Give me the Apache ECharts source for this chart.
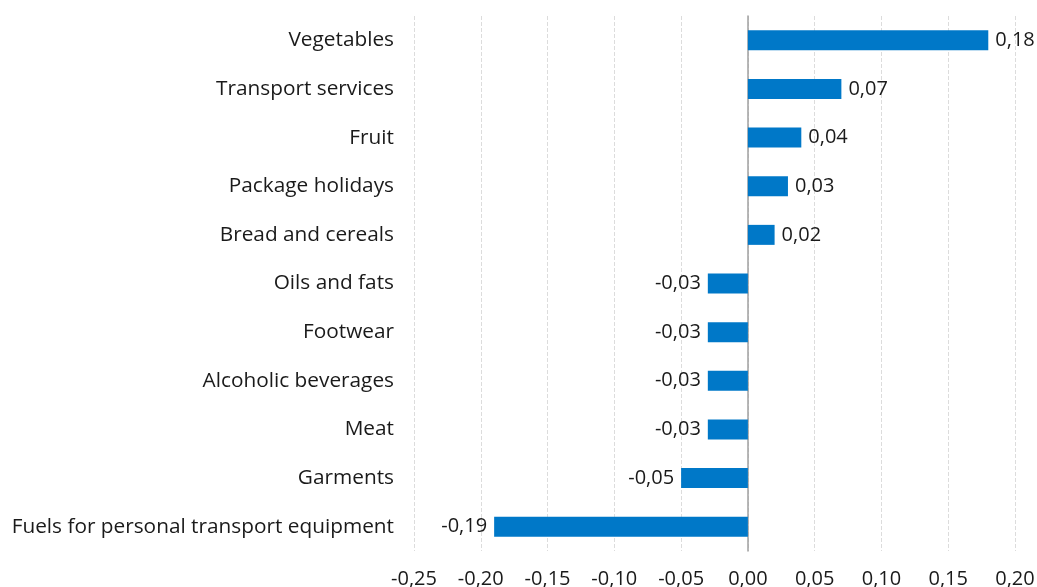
<!DOCTYPE html>
<html lang="en">
<head>
    <meta charset="UTF-8">
    <title>Contributions</title>
    <script src="https://cdn.jsdelivr.net/npm/echarts@6/dist/echarts.min.js"></script>
    <style>
        html, body {
            margin: 0;
            height: 100%;
            background: #fff;
        }
    </style>
</head>
<body>
<div id="main" style="width: 1037px;height: 587px"></div>
<script>
    var categories = ['Vegetables', 'Transport services', 'Fruit', 'Package holidays', 'Bread and cereals',
        'Oils and fats', 'Footwear', 'Alcoholic beverages', 'Meat', 'Garments',
        'Fuels for personal transport equipment'];
    var values = [0.18, 0.07, 0.04, 0.03, 0.02, -0.03, -0.03, -0.03, -0.03, -0.05, -0.19];

    function comma(v, d) {
        return v.toFixed(d).replace('.', ',');
    }

    var font = "'Open Sans', 'Noto Sans', sans-serif";
    var fs = 20;
    var myChart = echarts.init(document.getElementById('main'));

    var option = {
        animation: false,
        grid: {left: 414, right: 22, top: 16, bottom: 36, containLabel: false, outerBoundsMode: 'none'},
        xAxis: {
            type: 'value',
            min: -0.25,
            max: 0.20,
            interval: 0.05,
            axisLine: {show: false},
            axisTick: {show: false},
            splitLine: {lineStyle: {color: '#dcdcdc', type: 'dashed', width: 1}},
            axisLabel: {
                margin: 18,
                fontSize: fs,
                fontFamily: font,
                color: '#1a1a1a',
                formatter: function (v) { return comma(v, 2); }
            }
        },
        yAxis: {
            type: 'category',
            inverse: true,
            data: categories,
            axisTick: {show: false},
            axisLine: {onZero: true, lineStyle: {color: '#a0a0a0', width: 1.5}},
            axisLabel: {
                margin: 20,
                fontSize: 20.8,
                fontFamily: font,
                color: '#1a1a1a'
            }
        },
        series: [{
            type: 'bar',
            barWidth: 20,
            data: values.map(function (v) {
                return {
                    value: v,
                    label: {position: v >= 0 ? 'right' : 'left'}
                };
            }),
            itemStyle: {color: '#0078c8'},
            label: {
                show: true,
                distance: 7,
                fontSize: fs,
                fontFamily: font,
                color: '#1a1a1a',
                formatter: function (p) { return comma(p.value, 2); }
            }
        }]
    };
    myChart.setOption(option);
</script>
</body>
</html>
